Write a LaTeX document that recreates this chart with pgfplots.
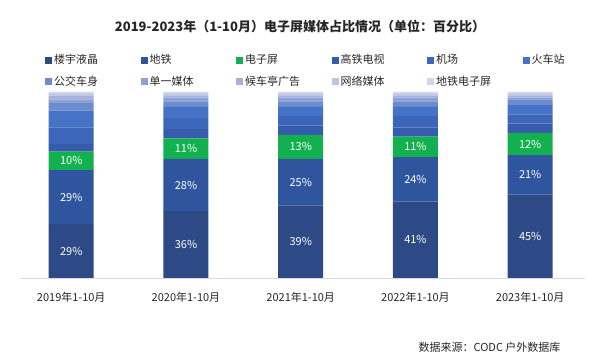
\documentclass[border=0pt]{standalone}
\usepackage{fontspec}
\setmainfont{Noto Sans CJK SC}
\usepackage{pgfplots}
\pgfplotsset{compat=1.18}
\usepackage{pgfplotstable}
\definecolor{c1}{HTML}{2D4A86}
\definecolor{c2}{HTML}{2F559E}
\definecolor{c3}{HTML}{12B04E}
\definecolor{c4}{HTML}{385CAD}
\definecolor{c5}{HTML}{3C66BA}
\definecolor{c6}{HTML}{4673C6}
\definecolor{c7}{HTML}{6C8CCE}
\definecolor{c8}{HTML}{8CA2D6}
\definecolor{c9}{HTML}{A6B2DC}
\definecolor{c10}{HTML}{BCC4E4}
\definecolor{c11}{HTML}{D2D6EA}
\definecolor{txt}{HTML}{262626}
\pgfplotstableread{
x lou dt dzp gt jc hcz gj dy hct wl dtdz
0 29 29 10 4 9 9 4 2 2 1 1
1 36 28 11 5 6 6 3 2 1 1 1
2 39 25 13 5 5 5 3 2 1 1 1
3 41 24 11 5 6 5 3 2 1 1 1
4 45 21 12 5 5 5 3 1 1 1 1
}\data
\begin{document}
\begin{tikzpicture}
\path[use as bounding box] (0pt,0pt) rectangle (600pt,363pt);
\node[font=\bfseries\fontsize{13}{15}\selectfont, text=txt] at (300pt,337pt) {2019-2023年（1-10月）电子屏媒体占比情况（单位：百分比）};
\node[anchor=east, font=\fontsize{11}{13}\selectfont, text=txt] at (564pt,16pt) {数据来源：CODC 户外数据库};
\begin{axis}[
  at={(20pt,85pt)}, anchor=south west, scale only axis,
  width=565pt, height=186pt,
  ybar stacked, bar width=45pt,
  xmin=-0.4464, xmax=4.4776, ymin=0, ymax=100,
  axis y line=none, axis x line*=bottom,
  x axis line style={draw=black!15, line width=0.8pt},
  xtick={0,1,2,3,4},
  xticklabels={2019年1-10月,2020年1-10月,2021年1-10月,2022年1-10月,2023年1-10月},
  major tick length=0pt,
  x tick label style={font=\fontsize{11}{13}\selectfont, text=txt, yshift=-11pt},
  legend columns=6,
  legend cell align=left,
  legend image code/.code={\path[#1, draw=none] (0pt,-3.5pt) rectangle (7pt,3.5pt);},
  legend style={at={(0.0442,1.2097)}, anchor=north west, draw=none, fill=none,
    font=\fontsize{11}{13}\selectfont, text=txt, inner sep=0pt, row sep=8pt,
    nodes={inner sep=1.5pt},
    /tikz/every odd column/.append style={column sep=0.5pt},
    /tikz/every even column/.append style={text width=85pt, align=left}},
]
\addplot[fill=c1, draw=none] table[x=x,y=lou]{\data};
\addlegendentry{楼宇液晶}
\addplot[fill=c2, draw=none] table[x=x,y=dt]{\data};
\addlegendentry{地铁}
\addplot[fill=c3, draw=none] table[x=x,y=dzp]{\data};
\addlegendentry{电子屏}
\addplot[fill=c4, draw=none] table[x=x,y=gt]{\data};
\addlegendentry{高铁电视}
\addplot[fill=c5, draw=none] table[x=x,y=jc]{\data};
\addlegendentry{机场}
\addplot[fill=c6, draw=none] table[x=x,y=hcz]{\data};
\addlegendentry{火车站}
\addplot[fill=c7, draw=none] table[x=x,y=gj]{\data};
\addlegendentry{公交车身}
\addplot[fill=c8, draw=none] table[x=x,y=dy]{\data};
\addlegendentry{单一媒体}
\addplot[fill=c9, draw=none] table[x=x,y=hct]{\data};
\addlegendentry{候车亭广告}
\addplot[fill=c10, draw=none] table[x=x,y=wl]{\data};
\addlegendentry{网络媒体}
\addplot[fill=c11, draw=none] table[x=x,y=dtdz]{\data};
\addlegendentry{地铁电子屏}
\end{axis}
\begin{axis}[
  at={(20pt,85pt)}, anchor=south west, scale only axis,
  width=565pt, height=186pt,
  xmin=-0.4464, xmax=4.4776, ymin=0, ymax=100,
  hide axis,
]
\addplot[draw=none, mark=none, nodes near coords, point meta=explicit symbolic,
  every node near coord/.append style={anchor=center, text=white, font=\fontsize{11}{13}\selectfont}]
  coordinates {
  (0,14.5) [29\%] (1,18) [36\%] (2,19.5) [39\%] (3,20.5) [41\%] (4,22.5) [45\%]
  (0,43.5) [29\%] (1,50) [28\%] (2,51.5) [25\%] (3,53) [24\%] (4,55.5) [21\%]
  (0,63) [10\%] (1,69.5) [11\%] (2,70.5) [13\%] (3,70.5) [11\%] (4,72) [12\%]
  };
\end{axis}
\end{tikzpicture}
\end{document}
